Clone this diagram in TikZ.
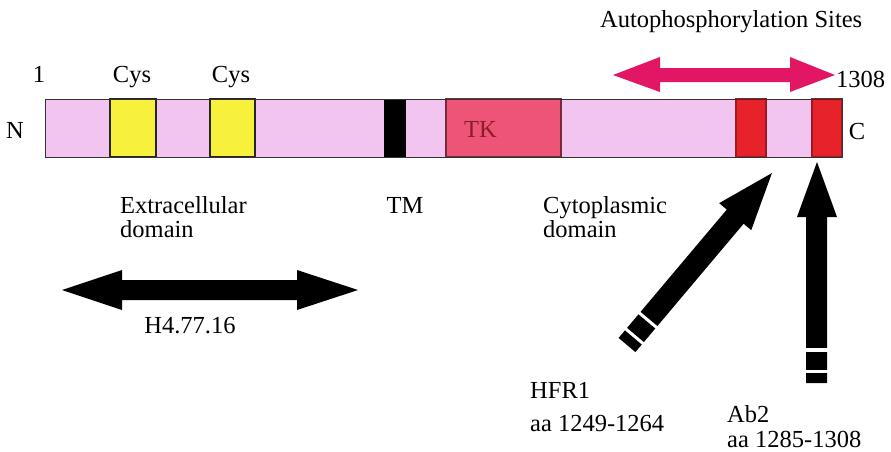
\documentclass[tikz,border=0pt]{standalone}
\usepackage{fontspec}
\setmainfont{Liberation Serif}
\newfontfamily\diagfont{Liberation Serif}
\usetikzlibrary{calc}
\definecolor{segpink}{RGB}{242,196,240}
\definecolor{segyellow}{RGB}{247,240,60}
\definecolor{tkred}{RGB}{238,84,120}
\definecolor{sitered}{RGB}{232,34,42}
\definecolor{arrowpink}{RGB}{226,22,100}
\definecolor{tktext}{RGB}{140,28,40}
\begin{document}
\begin{tikzpicture}[x=1pt,y=-1pt,
  lbl/.style={font=\diagfont\fontsize{24.5}{25}\selectfont, inner sep=0pt, anchor=base},
  lbll/.style={lbl, anchor=base west},
  seg/.style={draw=black!85, line width=1.2pt}]
\useasboundingbox[fill=white] (0,0) rectangle (891,451);

% main bar
\fill[segpink] (45,99) rectangle (842,157);
\draw[seg, fill=segyellow] (110,99) rectangle (156,157);
\draw[seg, fill=segyellow] (210,99) rectangle (255,157);
\fill[black] (384,99) rectangle (406,157);
\draw[seg, draw=tkred!50!black, fill=tkred] (446,99) rectangle (561,157);
\draw[seg, draw=sitered!70!black, fill=sitered] (736,99) rectangle (766,157);
\draw[seg, draw=sitered!70!black, fill=sitered] (812,99) rectangle (842,157);
\draw[black!80, line width=1pt] (45,99) rectangle (842,157);

% labels on bar
\node[lbl] (one) at (39,82) {1};
\node[lbl] (cys1) at (132,82) {Cys};
\node[lbl] (cys2) at (231,82) {Cys};
\node[lbl] (nterm) at (15,138) {N};
\node[lbl] (cterm) at (857,139) {C};
\node[lbll, text=tktext] (tk) at (464,137) {TK};
\node[lbll] (end) at (836,87) {1308};
\node[lbll] (auto) at (600,27) {Autophosphorylation Sites};

% domain labels
\node[lbll] (extra) at (120,213) {Extracellular};
\node[lbll] (extra2) at (120,237) {domain};
\node[lbl] (tm) at (405,213) {TM};
\node[lbll] (cyto) at (543,213) {Cytoplasmic};
\node[lbll] (cyto2) at (543,237) {domain};

% pink double arrow
\fill[arrowpink] (613,75) -- (660,57) -- (660,68) -- (790,68) -- (790,57) -- (835,75)
  -- (790,92) -- (790,82) -- (660,82) -- (660,92) -- cycle;

% black double arrow
\fill[black] (62,290) -- (122,270) -- (122,280) -- (297,280) -- (297,270) -- (358,290)
  -- (297,310) -- (297,300) -- (122,300) -- (122,310) -- cycle;
\node[lbl] (h4) at (190,333) {H4.77.16};

% diagonal arrow (HFR1)
\begin{scope}[shift={(627,345)}, x={(0.644pt,0.764pt)}, y={(-0.764pt,0.644pt)}]
  \fill[black] (0,-11) -- (168,-11) -- (168,-21) -- (225,0) -- (168,21) -- (168,11) -- (0,11) -- cycle;
  \fill[white] (10,-12) -- (13,-12) -- (13,12) -- (10,12) -- cycle;
  \fill[white] (31,-12) -- (34,-12) -- (34,12) -- (31,12) -- cycle;
\end{scope}
\node[lbll] (hfr) at (530,398) {HFR1};
\node[lbll] (hfraa) at (530,431) {aa 1249-1264};

% vertical arrow (Ab2)
\fill[black] (806,383) -- (806,217) -- (797,217) -- (817,162) -- (837,217) -- (827,217) -- (827,383) -- cycle;
\fill[white] (805,370) rectangle (828,373);
\fill[white] (805,348) rectangle (828,352);
\node[lbll] (ab) at (727,422) {Ab2};
\node[lbll] (abaa) at (727,447) {aa 1285-1308};
\end{tikzpicture}
\end{document}
